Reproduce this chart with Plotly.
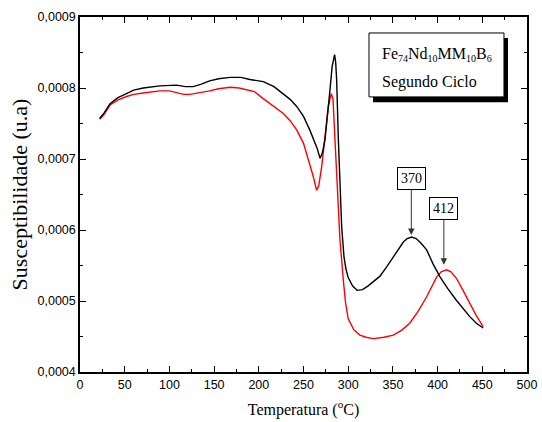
import plotly.graph_objects as go

# ---- data ----
T_black = [22, 27, 33.6, 42, 52, 60, 70.8, 89.5, 108, 118, 126.7, 135, 145, 155, 167.8, 180, 190,
           205, 217, 227.4, 235, 242.4, 250, 257, 262, 265, 268.5, 271, 274, 277, 279.6, 282, 283.5,
           284.8, 286, 287.1, 289, 290.8, 292.7, 295.3, 297.5, 300, 305, 310, 316, 322, 328,
           335.6, 343, 350.5, 356, 361.7, 366, 371, 376, 381, 387.8, 395, 402.7, 411, 421, 428,
           436, 443, 451]
chi_black = [0.000757, 0.000765, 0.000778, 0.000786, 0.000792, 0.000797, 0.000800, 0.000803,
             0.000804, 0.000802, 0.000802, 0.000805, 0.000810, 0.000813, 0.000815, 0.000815,
             0.000812, 0.000809, 0.000802, 0.000792, 0.000784, 0.000774, 0.000760, 0.000741,
             0.000725, 0.000716, 0.000701, 0.000708, 0.000727, 0.000760, 0.000797, 0.000830,
             0.000843, 0.000847, 0.000836, 0.000811, 0.000727, 0.000656, 0.000605, 0.000562,
             0.000545, 0.000533, 0.000521, 0.000515, 0.000516, 0.000521, 0.000527,
             0.000535, 0.000548, 0.000562, 0.000574, 0.000583, 0.000588, 0.000590, 0.000588,
             0.000582, 0.000572, 0.000552, 0.000534, 0.000518, 0.000501, 0.000490, 0.000478,
             0.000469, 0.000462]

T_red = [22, 27, 33.6, 42, 52, 60, 70.8, 89.5, 100, 108, 116, 123, 133, 145, 155, 167.8, 178,
         186.4, 195, 205, 215, 227.4, 235, 242.4, 250, 257, 261, 264.7, 267, 270.3, 274, 277.8,
         281, 283, 285.2, 287.8, 290.8, 294.5, 297, 300, 306, 313, 320, 328, 340, 350.5, 360, 369,
         378, 387.8, 394, 399, 404, 410, 415, 421, 428, 436, 443, 451]
chi_red = [0.000756, 0.000763, 0.000776, 0.000783, 0.000788, 0.000791, 0.000793, 0.000796,
           0.000796, 0.000794, 0.000791, 0.000791, 0.000793, 0.000796, 0.000799, 0.000801,
           0.000800, 0.000798, 0.000795, 0.000785, 0.000776, 0.000764, 0.000754, 0.000741,
           0.000722, 0.000694, 0.000675, 0.000656, 0.000662, 0.000689, 0.000730, 0.000774,
           0.000792, 0.000785, 0.000727, 0.000656, 0.000586, 0.000530, 0.000498, 0.000475,
           0.000460, 0.000452, 0.000449, 0.000447, 0.000449, 0.000452, 0.000459, 0.000469,
           0.000485, 0.000506, 0.000522, 0.000534, 0.000541, 0.000544, 0.000541, 0.000532,
           0.000516, 0.000497, 0.000480, 0.000464]

peak_T = [370.6, 407]
peak_chi = [0.000593, 0.000551]
peak_labels = ["370", "412"]

x_range = [0, 500]
y_range = [0.0004, 0.0009]

serif = "Liberation Serif, Times New Roman, serif"
sans = "Liberation Sans, Arial, sans-serif"

fig = go.Figure()
fig.add_trace(go.Scatter(x=T_red, y=chi_red, mode="lines",
                         line=dict(color="#ff0000", width=1.4), showlegend=False))
fig.add_trace(go.Scatter(x=T_black, y=chi_black, mode="lines",
                         line=dict(color="#000000", width=1.4), showlegend=False))

for t, c, lab in zip(peak_T, peak_chi, peak_labels):
    fig.add_annotation(x=t, y=c, xref="x", yref="y", text=lab, showarrow=True,
                       ax=0, ay=-56, arrowhead=2, arrowsize=1.3, arrowwidth=1,
                       arrowcolor="#333333", bordercolor="#000000", borderwidth=1,
                       borderpad=3, bgcolor="white",
                       font=dict(family=serif, size=14, color="black"))

# label box with shadow
fig.add_shape(type="rect", xref="paper", yref="paper", x0=0.6555, x1=0.9575, y0=0.760, y1=0.941,
              fillcolor="black", line=dict(width=0), layer="above")
fig.add_shape(type="rect", xref="paper", yref="paper", x0=0.6465, x1=0.9485, y0=0.775, y1=0.955,
              fillcolor="white", line=dict(color="black", width=1), layer="above")
sub = "<sub><span style='font-size:10px'>{}</span></sub>"
fig.add_annotation(xref="paper", yref="paper", x=0.672, y=0.893, xanchor="left", yanchor="middle",
                   text="Fe" + sub.format("74") + "Nd" + sub.format("10") + "MM" + sub.format("10")
                        + "B" + sub.format("6"),
                   showarrow=False, font=dict(family=serif, size=16, color="black"))
fig.add_annotation(xref="paper", yref="paper", x=0.672, y=0.818, xanchor="left", yanchor="middle",
                   text="Segundo Ciclo", showarrow=False,
                   font=dict(family=serif, size=16, color="black"))

axis_common = dict(showline=True, linecolor="black", linewidth=1.5, mirror="ticks",
                   ticks="inside", ticklen=6, tickwidth=1, tickcolor="black",
                   showgrid=False, zeroline=False, automargin=False,
                   tickfont=dict(family=sans, size=12.5, color="black"))

fig.update_xaxes(range=x_range, dtick=50, tick0=0,
                 minor=dict(ticks="inside", ticklen=3, dtick=25, tickcolor="black", showgrid=False),
                 title=dict(text="Temperatura (<sup>o</sup>C)", standoff=13,
                            font=dict(family=serif, size=16, color="black")),
                 **axis_common)
fig.update_yaxes(range=y_range, dtick=0.0001, tick0=0.0004, tickformat=".4f",
                 minor=dict(ticks="inside", ticklen=3, dtick=0.00005, tickcolor="black", showgrid=False),
                 title=dict(text="Susceptibilidade (u.a)", standoff=4,
                            font=dict(family=serif, size=22, color="black")),
                 **axis_common)

fig.update_layout(width=542, height=422, margin=dict(l=80, r=15, t=17, b=50),
                  paper_bgcolor="white", plot_bgcolor="white", separators=", ")

fig.write_html("out.html")
